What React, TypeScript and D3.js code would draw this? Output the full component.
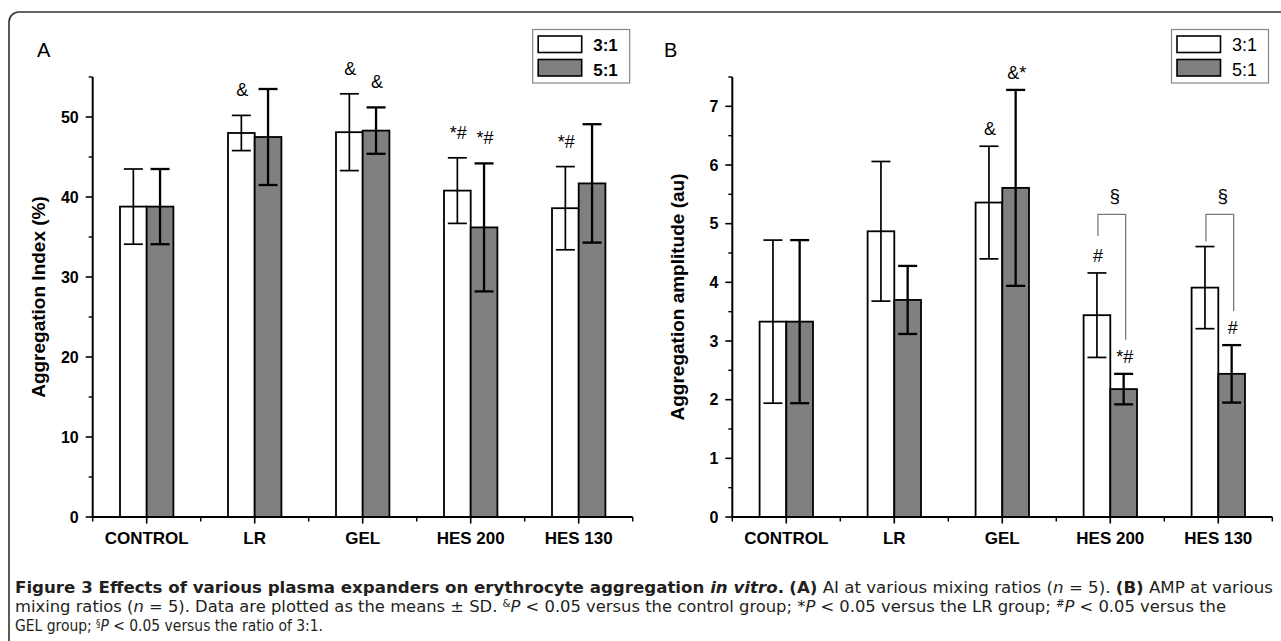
import React from "react";
import * as d3 from "d3";

// ---------- data ----------
const categories = ["CONTROL", "LR", "GEL", "HES 200", "HES 130"];
const series = ["3:1", "5:1"];

// Panel A: Aggregation Index (%)
const aiMean31 = [38.8, 48.0, 48.1, 40.8, 38.6];
const aiSd31 = [4.7, 2.2, 4.8, 4.1, 5.2];
const aiMean51 = [38.8, 47.5, 48.3, 36.2, 41.7];
const aiSd51 = [4.7, 6.0, 2.9, 8.0, 7.4];
const aiMarks31 = ["", "&", "&", "*#", "*#"];
const aiMarks51 = ["", "", "&", "*#", ""];
const aiMajorTicks = [0, 10, 20, 30, 40, 50];
const aiMinorTicks = [5, 15, 25, 35, 45, 55];

// Panel B: Aggregation amplitude (au)
const ampMean31 = [3.33, 4.87, 5.36, 3.44, 3.91];
const ampSd31 = [1.39, 1.19, 0.96, 0.72, 0.7];
const ampMean51 = [3.33, 3.7, 5.61, 2.18, 2.44];
const ampSd51 = [1.39, 0.58, 1.67, 0.26, 0.49];
const ampMarks31 = ["", "", "&", "#", ""];
const ampMarks51 = ["", "", "&*", "*#", "#"];
const ampBrackets = [false, false, false, true, true];
const ampBracketTop = [5.16];
const ampMajorTicks = [0, 1, 2, 3, 4, 5, 6, 7];
const ampMinorTicks = [0.5, 1.5, 2.5, 3.5, 4.5, 5.5, 6.5, 7.5];

const FONT = "'Liberation Sans', Arial, Helvetica, sans-serif";
const GRAY = "#808080";

type PanelProps = {
  x0: number;
  x1: number;
  yMax: number;
  mean31: number[];
  sd31: number[];
  mean51: number[];
  sd51: number[];
  marks31: string[];
  marks51: string[];
  major: number[];
  minor: number[];
  title: string;
  letter: string;
  letterX: number;
  markGap: number;
  legendX: number;
  legendBold: boolean;
  brackets?: boolean[];
  bracketTop?: number;
};

function Panel(p: PanelProps) {
  const yTop = 77;
  const yBot = 517;
  const x = d3.scaleBand<string>().domain(categories).range([p.x0, p.x1]).padding(0);
  const bw = x.bandwidth();
  const barW = 26.7;
  const xs = d3
    .scaleBand<string>()
    .domain(series)
    .range([bw / 2 - barW, bw / 2 + barW])
    .padding(0);
  const y = d3.scaleLinear().domain([0, p.yMax]).range([yBot, yTop]);
  const capHalf = 9.5;

  const data = categories.map((c, i) => ({
    c,
    vals: [
      { s: series[0], m: p.mean31[i], sd: p.sd31[i], mark: p.marks31[i], fill: "#ffffff", ew: 1.7 },
      { s: series[1], m: p.mean51[i], sd: p.sd51[i], mark: p.marks51[i], fill: GRAY, ew: 2.3 },
    ],
  }));

  const boundaries = d3.range(categories.length + 1).map((i) => p.x0 + i * bw);

  return (
    <g>
      {/* bars */}
      {data.map((d) =>
        d.vals.map((v) => {
          const bx = (x(d.c) as number) + (xs(v.s) as number);
          return (
            <rect
              key={d.c + v.s}
              x={bx}
              y={y(v.m)}
              width={xs.bandwidth()}
              height={yBot - y(v.m)}
              fill={v.fill}
              stroke="#000"
              strokeWidth={1.8}
            />
          );
        })
      )}
      {/* error bars */}
      {data.map((d) =>
        d.vals.map((v) => {
          const cx = (x(d.c) as number) + (xs(v.s) as number) + xs.bandwidth() / 2;
          const hi = y(v.m + v.sd);
          const lo = y(v.m - v.sd);
          return (
            <g key={"e" + d.c + v.s} stroke="#000" strokeWidth={v.ew}>
              <line x1={cx} x2={cx} y1={hi} y2={lo} />
              <line x1={cx - capHalf} x2={cx + capHalf} y1={hi} y2={hi} />
              <line x1={cx - capHalf} x2={cx + capHalf} y1={lo} y2={lo} />
            </g>
          );
        })
      )}
      {/* significance marks */}
      {data.map((d) =>
        d.vals.map((v) => {
          if (!v.mark) return null;
          const cx = (x(d.c) as number) + (xs(v.s) as number) + xs.bandwidth() / 2;
          return (
            <text
              key={"m" + d.c + v.s}
              x={cx + 1}
              y={y(v.m + v.sd) - p.markGap}
              textAnchor="middle"
              fontFamily={FONT}
              fontSize={18}
              fill="#000"
            >
              {v.mark}
            </text>
          );
        })
      )}
      {/* brackets */}
      {p.brackets &&
        data.map((d, i) => {
          if (!p.brackets![i]) return null;
          const l = (x(d.c) as number) + (xs(series[0]) as number) + xs.bandwidth() / 2 + 1;
          const r = (x(d.c) as number) + (xs(series[1]) as number) + xs.bandwidth() / 2 + 2;
          const top = y(p.bracketTop as number);
          const lb = y(d.vals[0].m + d.vals[0].sd) - (d.vals[0].mark ? 37 : 5);
          const rb = y(d.vals[1].m + d.vals[1].sd) - (d.vals[1].mark ? 34 : 5);
          return (
            <g key={"b" + d.c}>
              <path
                d={`M${l},${lb}V${top}H${r}V${rb}`}
                fill="none"
                stroke="#7a7a7a"
                strokeWidth={1.3}
              />
              <text
                x={(l + r) / 2 + 3}
                y={top - 12}
                textAnchor="middle"
                fontFamily={FONT}
                fontSize={19}
                fill="#000"
              >
                §
              </text>
            </g>
          );
        })}
      {/* y axis */}
      <line x1={p.x0} x2={p.x0} y1={yTop} y2={yBot} stroke="#000" strokeWidth={2} />
      {p.major.map((t) => (
        <g key={"yt" + t}>
          <line x1={p.x0 - 7} x2={p.x0} y1={y(t)} y2={y(t)} stroke="#000" strokeWidth={1.6} />
          <text
            x={p.x0 - 14}
            y={y(t) + 5.8}
            textAnchor="end"
            fontFamily={FONT}
            fontWeight="bold"
            fontSize={16}
          >
            {t}
          </text>
        </g>
      ))}
      {p.minor.map((t) => (
        <line key={"ym" + t} x1={p.x0 - 4} x2={p.x0} y1={y(t)} y2={y(t)} stroke="#000" strokeWidth={1.4} />
      ))}
      <text
        transform={`translate(${p.x0 - 48},${(yTop + yBot) / 2}) rotate(-90)`}
        textAnchor="middle"
        fontFamily={FONT}
        fontWeight="bold"
        fontSize={19}
      >
        {p.title}
      </text>
      {/* x axis */}
      <line x1={p.x0 - 1} x2={p.x1} y1={yBot} y2={yBot} stroke="#000" strokeWidth={2} />
      {boundaries.map((bx, i) => (
        <line key={"xm" + i} x1={bx} x2={bx} y1={yBot} y2={yBot + 4.5} stroke="#000" strokeWidth={1.5} />
      ))}
      {categories.map((c) => {
        const cx = (x(c) as number) + bw / 2;
        return (
          <g key={"xt" + c}>
            <line x1={cx} x2={cx} y1={yBot} y2={yBot + 6.5} stroke="#000" strokeWidth={1.6} />
            <text x={cx} y={544} textAnchor="middle" fontFamily={FONT} fontWeight="bold" fontSize={17}>
              {c}
            </text>
          </g>
        );
      })}
      {/* panel letter */}
      <text x={p.letterX} y={57} fontFamily={FONT} fontSize={20}>
        {p.letter}
      </text>
      {/* legend */}
      <g>
        <rect x={p.legendX} y={29.5} width={97} height={53.5} fill="#fff" stroke="#888" strokeWidth={1.2} />
        {series.map((s, i) => (
          <g key={"lg" + s}>
            <rect
              x={p.legendX + 5.5}
              y={36 + i * 23.5}
              width={43.5}
              height={16.5}
              fill={i === 0 ? "#fff" : GRAY}
              stroke="#000"
              strokeWidth={1.6}
            />
            <text
              x={p.legendX + 60.5}
              y={51 + i * 25}
              fontFamily={FONT}
              fontWeight={p.legendBold ? "bold" : "normal"}
              fontSize={p.legendBold ? 17 : 18}
            >
              {s}
            </text>
          </g>
        ))}
      </g>
    </g>
  );
}

const CAP_FONT = "'Liberation Sans Narrow', 'DejaVu Sans Condensed', 'Open Sans', sans-serif";

export default function App() {
  return (
    <svg
      width={1281}
      height={641}
      style={{ position: "absolute", left: 0, top: 0, background: "#fff" }}
    >
      <rect width={1281} height={641} fill="#fff" />
      <path d="M9,641V22A10,10 0 0 1 19,12H1281" fill="none" stroke="#333" strokeWidth={1.6} />
      <Panel
        x0={92.7}
        x1={632.7}
        yMax={55}
        mean31={aiMean31}
        sd31={aiSd31}
        mean51={aiMean51}
        sd51={aiSd51}
        marks31={aiMarks31}
        marks51={aiMarks51}
        major={aiMajorTicks}
        minor={aiMinorTicks}
        title="Aggregation Index (%)"
        letter="A"
        letterX={37}
        markGap={19}
        legendX={532.7}
        legendBold={true}
      />
      <Panel
        x0={732.3}
        x1={1272.3}
        yMax={7.5}
        mean31={ampMean31}
        sd31={ampSd31}
        mean51={ampMean51}
        sd51={ampSd51}
        marks31={ampMarks31}
        marks51={ampMarks51}
        major={ampMajorTicks}
        minor={ampMinorTicks}
        title="Aggregation amplitude (au)"
        letter="B"
        letterX={664}
        markGap={11}
        legendX={1171.5}
        legendBold={false}
        brackets={ampBrackets}
        bracketTop={ampBracketTop[0]}
      />
      {/* caption */}
      <g fontFamily={CAP_FONT} fontSize={16} fill="#231f20">
        <text x={15} y={593} textLength={1258} lengthAdjust="spacingAndGlyphs">
          <tspan fontWeight="bold">Figure 3 Effects of various plasma expanders on erythrocyte aggregation </tspan>
          <tspan fontWeight="bold" fontStyle="italic">in vitro</tspan>
          <tspan fontWeight="bold">.</tspan>
          <tspan> </tspan>
          <tspan fontWeight="bold">(A)</tspan>
          <tspan> AI at various mixing ratios (</tspan>
          <tspan fontStyle="italic">n</tspan>
          <tspan> = 5). </tspan>
          <tspan fontWeight="bold">(B)</tspan>
          <tspan> AMP at various</tspan>
        </text>
        <text x={15} y={611.5} textLength={1211} lengthAdjust="spacingAndGlyphs">
          <tspan>mixing ratios (</tspan>
          <tspan fontStyle="italic">n</tspan>
          <tspan> = 5). Data are plotted as the means ± SD. </tspan>
          <tspan dy={-5} fontSize={10}>&amp;</tspan>
          <tspan dy={5} fontStyle="italic">P</tspan>
          <tspan> &lt; 0.05 versus the control group; *</tspan>
          <tspan fontStyle="italic">P</tspan>
          <tspan> &lt; 0.05 versus the LR group; </tspan>
          <tspan dy={-5} fontSize={10}>#</tspan>
          <tspan dy={5} fontStyle="italic">P</tspan>
          <tspan> &lt; 0.05 versus the</tspan>
        </text>
        <text x={15} y={630.5} textLength={308} lengthAdjust="spacingAndGlyphs">
          <tspan>GEL group; </tspan>
          <tspan dy={-3.5} fontSize={10}>§</tspan>
          <tspan dy={3.5} fontStyle="italic">P</tspan>
          <tspan> &lt; 0.05 versus the ratio of 3:1.</tspan>
        </text>
      </g>
    </svg>
  );
}
